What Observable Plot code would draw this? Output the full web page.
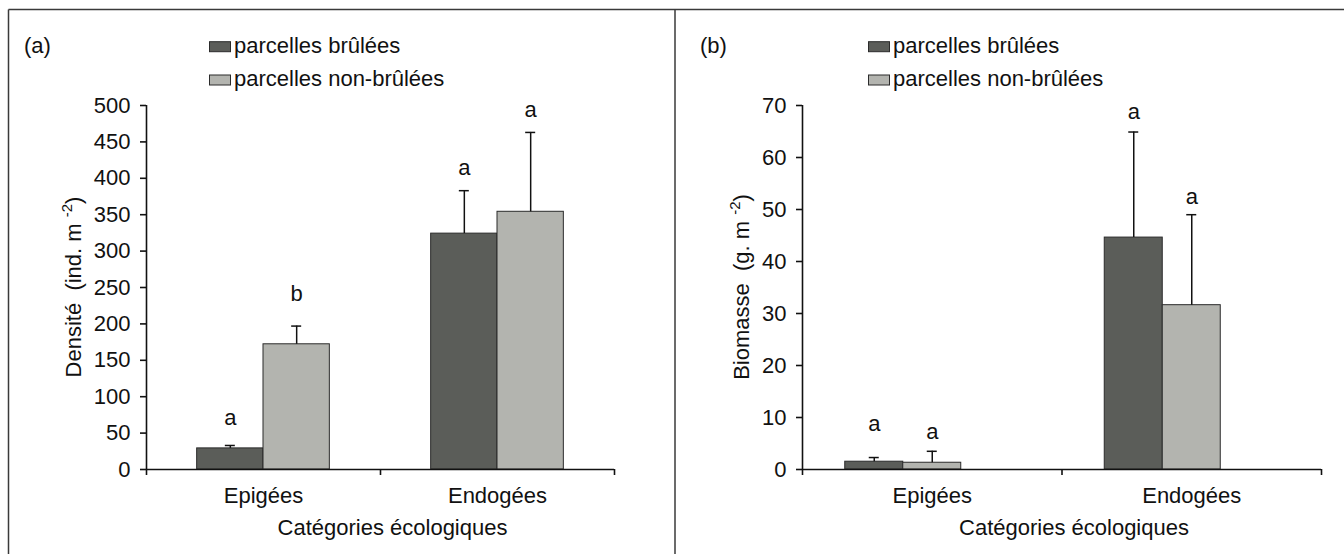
<!DOCTYPE html>
<html>
<head>
<meta charset="utf-8">
<script src="https://cdn.jsdelivr.net/npm/d3@7"></script>
<script src="https://cdn.jsdelivr.net/npm/@observablehq/plot@0.6"></script>
<style>
  html, body { margin: 0; padding: 0; background: #fff; }
  #wrap { position: relative; width: 1344px; height: 554px; overflow: hidden; background: #fff;
          font-family: "Liberation Sans", Arial, Helvetica, sans-serif; }
  #wrap > div.panel { position: absolute; top: 0; }
  #overlay { position: absolute; left: 0; top: 0; pointer-events: none; }
</style>
</head>
<body>
<div id="wrap">
  <div class="panel" id="pa" style="left:0px"></div>
  <div class="panel" id="pb" style="left:672px"></div>
  <svg id="overlay" width="1344" height="554"></svg>
</div>
<script>
// ---------------- DATA ----------------
const categories = ["Epigées", "Endogées"];
const series = ["parcelles brûlées", "parcelles non-brûlées"];
const xTitle = "Catégories écologiques";

// (a) Densité (ind. m-2)
const densiteBrulees = [29, 324];
const densiteBruleesErr = [4, 59];
const densiteNonBrulees = [172, 354];
const densiteNonBruleesErr = [25, 109];
const densiteLettersBrulees = ["a", "a"];
const densiteLettersNonBrulees = ["b", "a"];
const densiteLetterLevelBrulees = [61, 404];
const densiteLetterLevelNonBrulees = [232, 484];
const densiteTicks = [0, 50, 100, 150, 200, 250, 300, 350, 400, 450, 500];

// (b) Biomasse (g. m-2)
const biomasseBrulees = [1.5, 44.6];
const biomasseBruleesErr = [0.8, 20.3];
const biomasseNonBrulees = [1.3, 31.6];
const biomasseNonBruleesErr = [2.2, 17.4];
const biomasseLettersBrulees = ["a", "a"];
const biomasseLettersNonBrulees = ["a", "a"];
const biomasseLetterLevelBrulees = [7.5, 67.4];
const biomasseLetterLevelNonBrulees = [5.8, 51.1];
const biomasseTicks = [0, 10, 20, 30, 40, 50, 60, 70];

// ---------------- STYLE ----------------
const FONT = '"Liberation Sans", Arial, Helvetica, sans-serif';
const FS = 22;
const colors = ["#5b5d59", "#b3b4af"];
const INK = "#111";

function buildRows(vals, errs, letters, levels, slotW, nSlots) {
  const rows = [];
  categories.forEach((c, i) => {
    series.forEach((s, k) => {
      const x1 = i + 0.5 - nSlots * slotW / 2 + k * slotW;
      rows.push({
        cat: c, series: s, k,
        x1, x2: x1 + slotW, xc: x1 + slotW / 2,
        v: vals[k][i], e: errs[k][i],
        letter: letters[k][i], level: levels[k][i]
      });
    });
  });
  return rows;
}

function makePanel(opts) {
  const rows = buildRows(opts.vals, opts.errs, opts.letters, opts.levels, opts.slotW, opts.nSlots);
  const plot = Plot.plot({
    width: 672, height: 554,
    marginLeft: opts.marginLeft, marginRight: opts.marginRight,
    marginTop: 105, marginBottom: 85,
    style: { fontFamily: FONT, fontSize: FS + "px", color: INK, background: "transparent", overflow: "visible" },
    x: { type: "linear", domain: [0, categories.length], axis: null },
    y: { domain: [0, opts.yMax], axis: null },
    color: { domain: series, range: colors },
    marks: [
      Plot.rect(rows, { x1: "x1", x2: "x2", y1: 0, y2: "v", fill: "series", stroke: "#2b2b2b", strokeWidth: 1 }),
      Plot.ruleX(rows, { x: "xc", y1: "v", y2: d => d.v + d.e, stroke: INK, strokeWidth: 1.5 }),
      Plot.ruleY(rows, { y: d => d.v + d.e, x1: "xc", x2: "xc", insetLeft: -5, insetRight: -5, stroke: INK, strokeWidth: 1.5 }),
      Plot.text(rows, { x: "xc", y: "level", text: "letter", lineAnchor: "bottom", textAnchor: "middle", fontSize: FS, fill: INK }),
      Plot.ruleX([0], { stroke: INK, strokeWidth: 1.6 }),
      Plot.ruleY([0], { stroke: INK, strokeWidth: 1.6 }),
      Plot.axisY({ ticks: opts.yTicks, tickSize: 6, tickPadding: 10, strokeWidth: 1.6, fontSize: FS, label: null, tickFormat: d => String(d) }),
      Plot.axisX({ ticks: d3.range(0, categories.length + 1), tickSize: 6, tickFormat: () => "", strokeWidth: 1.6, label: null }),
      Plot.axisX({ ticks: categories.map((c, i) => i + 0.5), tickSize: 0, tickPadding: 18, tickFormat: v => categories[Math.floor(v)], fontSize: FS, label: null }),
      Plot.text([xTitle], { frameAnchor: "bottom", dy: 65, dx: 12, lineAnchor: "bottom", fontSize: FS, fill: INK })
    ]
  });
  // rotated y-axis title with superscript
  const svg = d3.select(plot);
  const yScale = plot.scale("y");
  const cy = (yScale.apply(0) + yScale.apply(opts.yMax)) / 2;
  const t = svg.append("text")
    .attr("transform", `translate(${opts.marginLeft - opts.yTitleOffset},${cy}) rotate(-90)`)
    .attr("text-anchor", "middle")
    .attr("font-family", FONT)
    .attr("font-size", FS)
    .attr("fill", INK);
  t.append("tspan").text(opts.yTitleMain);
  t.append("tspan").attr("font-size", 15).attr("dy", -9).text("-2");
  t.append("tspan").attr("dy", 9).text(")");
  document.getElementById(opts.id).appendChild(plot);
}

makePanel({
  id: "pa", marginLeft: 146, marginRight: 58, yMax: 500, yTicks: densiteTicks,
  vals: [densiteBrulees, densiteNonBrulees], errs: [densiteBruleesErr, densiteNonBruleesErr],
  letters: [densiteLettersBrulees, densiteLettersNonBrulees],
  levels: [densiteLetterLevelBrulees, densiteLetterLevelNonBrulees],
  slotW: 0.2835, nSlots: 2,
  yTitleMain: "Densité\u00a0 (ind. m\u00a0", yTitleOffset: 65
});
makePanel({
  id: "pb", marginLeft: 130, marginRight: 23, yMax: 70, yTicks: biomasseTicks,
  vals: [biomasseBrulees, biomasseNonBrulees], errs: [biomasseBruleesErr, biomasseNonBruleesErr],
  letters: [biomasseLettersBrulees, biomasseLettersNonBrulees],
  levels: [biomasseLetterLevelBrulees, biomasseLetterLevelNonBrulees],
  slotW: 0.2235, nSlots: 3,
  yTitleMain: "Biomasse\u00a0 (g. m\u00a0", yTitleOffset: 53
});

// ---------------- FRAME, PANEL LETTERS, LEGENDS ----------------
const ov = d3.select("#overlay");
const frameColor = "#3a3a3a";
ov.append("line").attr("x1", 8.5).attr("x2", 1344).attr("y1", 9.5).attr("y2", 9.5).attr("stroke", frameColor).attr("stroke-width", 1.5);
ov.append("line").attr("x1", 8.5).attr("x2", 8.5).attr("y1", 9.5).attr("y2", 554).attr("stroke", frameColor).attr("stroke-width", 1.5);
ov.append("line").attr("x1", 675).attr("x2", 675).attr("y1", 9.5).attr("y2", 554).attr("stroke", frameColor).attr("stroke-width", 1.5);

const panelsMeta = [{ tag: "(a)", tagX: 24, legX: 209 }, { tag: "(b)", tagX: 700, legX: 868 }];
panelsMeta.forEach(p => {
  ov.append("text").attr("x", p.tagX).attr("y", 53).attr("font-family", FONT).attr("font-size", FS).attr("fill", INK).text(p.tag);
  series.forEach((s, k) => {
    const top = k === 0 ? 41.7 : 75;
    ov.append("rect").attr("x", p.legX + 0.5).attr("y", top).attr("width", 21).attr("height", 10)
      .attr("fill", colors[k]).attr("stroke", "#2b2b2b").attr("stroke-width", 1);
    ov.append("text").attr("x", p.legX + 25).attr("y", k === 0 ? 53 : 86)
      .attr("font-family", FONT).attr("font-size", FS).attr("fill", INK).text(s);
  });
});
</script>
</body>
</html>
